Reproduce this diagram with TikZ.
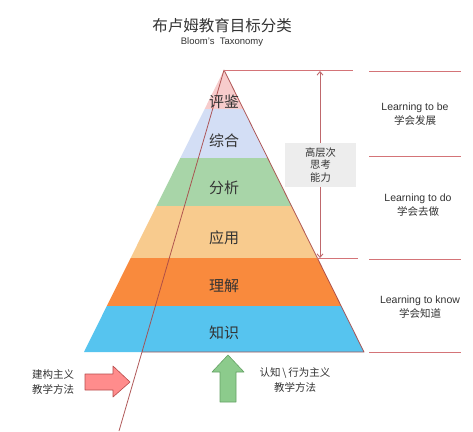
\documentclass[tikz,border=0pt]{standalone}
\usepackage{fontspec}
\setmainfont{Liberation Sans}
\newfontfamily\cjk{Noto Sans CJK SC}
\usetikzlibrary{arrows.meta}
\definecolor{lvA}{HTML}{F7CCCC}
\definecolor{lvB}{HTML}{D3DEF5}
\definecolor{lvC}{HTML}{A8D5A8}
\definecolor{lvD}{HTML}{F8CB8E}
\definecolor{lvE}{HTML}{F98A3D}
\definecolor{lvF}{HTML}{56C4EF}
\definecolor{edgecol}{HTML}{A84848}
\definecolor{rulecol}{HTML}{D47478}
\definecolor{txt}{HTML}{333333}
\begin{document}
\begin{tikzpicture}[x=1pt,y=-1pt,
  layerlbl/.style={text=txt,font=\cjk\fontsize{15}{18}\selectfont,inner sep=0pt},
  sidelbl/.style={text=txt,font=\fontsize{10.5}{14.5}\selectfont,align=center,inner sep=0pt},
  smalllbl/.style={text=txt,font=\cjk\fontsize{10.5}{15.5}\selectfont,align=center,inner sep=0pt},
  rule/.style={draw=rulecol,line width=0.9pt},
  outline/.style={draw=edgecol,line width=0.8pt,opacity=0.9},
]
\useasboundingbox (0,0) rectangle (473,431);
\fill[white] (0,0) rectangle (473,431);
\coordinate (apex) at (224,70);
\coordinate (bl) at (84,352);
\coordinate (br) at (364,352);
\coordinate (ib) at (142,352);
\coordinate (lend) at (119,431);
% layers
\begin{scope}
\clip (apex) -- (bl) -- (br) -- cycle;
\fill[lvA] (0,60) rectangle (473,109);
\fill[lvB] (0,109) rectangle (473,158);
\fill[lvC] (0,158) rectangle (473,206);
\fill[lvD] (0,206) rectangle (473,258);
\fill[lvE] (0,258) rectangle (473,306);
\fill[lvF] (0,306) rectangle (473,352.5);
\end{scope}
% outline
\draw[outline,line join=round] (lend) -- (apex) -- (br) -- (ib);
% title
\node[text=txt,font=\cjk\fontsize{15.5}{18}\selectfont,inner sep=0pt] (title) at (222,26) {布卢姆教育目标分类};
\node[text=txt,font=\fontsize{9.5}{11}\selectfont,inner sep=0pt] (subtitle) at (222,42) {Bloom's\ \ Taxonomy};
% layer labels
\node[layerlbl] (l1) at (224,102) {评鉴};
\node[layerlbl] (l2) at (224,141) {综合};
\node[layerlbl] (l3) at (224,188) {分析};
\node[layerlbl] (l4) at (224,238) {应用};
\node[layerlbl] (l5) at (224,286) {理解};
\node[layerlbl] (l6) at (224,333) {知识};
% right rules
\coordinate (r0a) at (353,70);
\draw[rule] (apex) -- (r0a);
\coordinate (ra1) at (369,71); \coordinate (ra2) at (461,71);
\coordinate (rb1) at (369,156); \coordinate (rb2) at (461,156);
\coordinate (rc0) at (317,258); \coordinate (rc0e) at (358,258);
\coordinate (rc1) at (369,259); \coordinate (rc2) at (461,259);
\coordinate (rd1) at (369,352); \coordinate (rd2) at (461,352);
\draw[rule] (ra1) -- (ra2);
\draw[rule] (rb1) -- (rb2);
\draw[rule] (rc0) -- (rc0e);
\draw[rule] (rc1) -- (rc2);
\draw[rule] (rd1) -- (rd2);
% vertical double arrow
\coordinate (vt) at (320,71);
\coordinate (vb) at (320,258);
\draw[draw=rulecol!90!black,line width=0.9pt,{Straight Barb[length=3.5pt,width=6pt]}-{Straight Barb[length=3.5pt,width=6pt]}] (vb) -- (vt);
\node[fill=black!7,minimum width=71pt,minimum height=44pt,inner sep=0pt,align=center,text=txt,font=\cjk\fontsize{10.3}{12.7}\selectfont] (hot) at (320.5,165) {高层次\\思考\\能力};
% side labels
\node[sidelbl] (s1) at (415,114) {Learning to be\\{\cjk 学会发展}};
\node[sidelbl] (s2) at (418,205) {Learning to do\\{\cjk 学会去做}};
\node[sidelbl] (s3) at (420,307) {Learning to know\\{\cjk 学会知道}};
% red block arrow
\node[smalllbl] (cons) at (53,382) {建构主义\\教学方法};
\draw[draw=red!60!black!70,fill=red!45!white,line width=0.6pt,line join=round]
  (85,374) -- (113,374) -- (113,366) -- (130,382) -- (113,397) -- (113,390) -- (85,390) -- cycle;
% green block arrow
\draw[draw=green!40!black!60,fill=green!35!black!10!white,line width=0.6pt,line join=round,fill=green!55!black!45!white]
  (220,402) -- (220,372) -- (212,372) -- (228,355) -- (244,372) -- (236,372) -- (236,402) -- cycle;
\node[smalllbl] (cogn) at (295,380) {认知\,\textbackslash\,行为主义\\教学方法};
\end{tikzpicture}
\end{document}
